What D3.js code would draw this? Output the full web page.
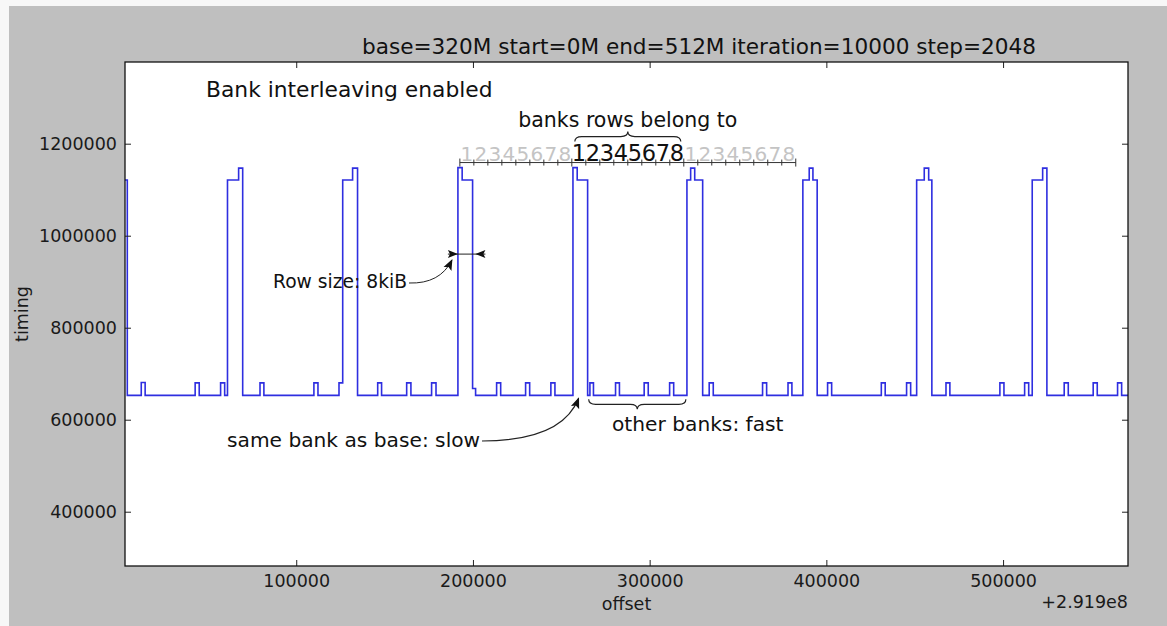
<!DOCTYPE html>
<html lang="en">
<head>
<meta charset="utf-8">
<title>Bank interleaving enabled</title>
<script src="https://d3js.org/d3.v7.min.js"></script>
<style>
  body { margin: 0; background: #f7f7f7; }
  text { font-family: "DejaVu Sans", sans-serif; }
</style>
</head>
<body>
<script>
// trace as steps: offset (relative to 2.919e8) where timing changes, and the new timing
var offsets = [3100, 4400, 12300, 14500, 42800, 45100, 57200, 59500, 61100, 67400,
  69700, 79500, 81700, 110000, 112300, 124200, 126300, 131900, 134700, 146100,
  148300, 162500, 164900, 176600, 179100, 191500, 193900, 199800, 201500, 213400,
  215700, 229800, 232100, 244100, 246400, 256600, 259000, 264900, 266200, 268200,
  280700, 282900, 296900, 299200, 311300, 313600, 321100, 323200, 325500, 330000,
  333700, 336000, 363900, 366200, 378300, 380500, 386700, 390300, 392400, 394800,
  400700, 403000, 431100, 433300, 445400, 447700, 451100, 455400, 457900, 459700,
  467700, 469900, 498200, 500500, 512200, 514500, 516500, 522400, 524800, 534600,
  536900, 551000, 553300, 564800, 567100, 570700];
var timings = [1121000, 653000, 681000, 653000, 680000, 653000, 680000, 653000, 1121000, 1147000,
  653000, 680000, 653000, 680000, 653000, 680000, 1121000, 1147000, 653000, 680000,
  653000, 680000, 653000, 680000, 653000, 1148000, 1121000, 668000, 653000, 680000,
  653000, 680000, 653000, 680000, 653000, 1148000, 1121000, 653000, 680000, 653000,
  680000, 653000, 680000, 653000, 680000, 653000, 1121000, 1147000, 1121000, 653000,
  680000, 653000, 680000, 653000, 680000, 653000, 1121000, 1147000, 1121000, 653000,
  680000, 653000, 680000, 653000, 680000, 653000, 1121000, 1147000, 1121000, 653000,
  680000, 653000, 680000, 653000, 680000, 653000, 1121000, 1147000, 653000, 680000,
  653000, 680000, 653000, 680000, 653000, 653000];

var xTicks = [100000, 200000, 300000, 400000, 500000];
var yTicks = [400000, 600000, 800000, 1000000, 1200000];
var bankDigits = ["1", "2", "3", "4", "5", "6", "7", "8"];
var bankGroups = [0, 1, 2];     // group 1 is the highlighted one

var rulerStart = 192600, rulerStep = 7920, rulerY = 1159000;
var rowStart = 191500, rowSize = 8192, rowY = 960000;
var slowAt = [259800, 653000];

var W = 1167, H = 626;
var margin = {left: 125, right: 1128, top: 62, bottom: 566};

var svg = d3.select("body").append("svg")
  .attr("width", W)
  .attr("height", H);

svg.append("rect")
  .attr("x", 9).attr("y", 6)
  .attr("width", W - 9).attr("height", H - 6)
  .attr("fill", "#bfbfbf");

var x = d3.scaleLinear().domain([3100, 570700]).range([margin.left, margin.right]);
var y = d3.scaleLinear().domain([282000, 1377600]).range([margin.bottom, margin.top]);

var defs = svg.append("defs");
defs.append("clipPath").attr("id", "clip")
  .append("rect")
  .attr("x", margin.left).attr("y", margin.top)
  .attr("width", margin.right - margin.left)
  .attr("height", margin.bottom - margin.top);

defs.append("marker")
  .attr("id", "head")
  .attr("viewBox", "0 0 10 10")
  .attr("refX", 9).attr("refY", 5)
  .attr("markerWidth", 11).attr("markerHeight", 11)
  .attr("markerUnits", "userSpaceOnUse")
  .attr("orient", "auto")
  .append("path")
  .attr("d", "M0,1 L10,5 L0,9 L2,5 Z")
  .attr("fill", "#111");

svg.append("rect")
  .attr("x", margin.left).attr("y", margin.top)
  .attr("width", margin.right - margin.left)
  .attr("height", margin.bottom - margin.top)
  .attr("fill", "white");

// trace
var pts = offsets.map((d, i) => [d, timings[i]]);
var line = d3.line()
  .x(d => x(d[0]))
  .y(d => y(d[1]))
  .curve(d3.curveStepAfter);

svg.append("path")
  .datum(pts)
  .attr("clip-path", "url(#clip)")
  .attr("d", line)
  .attr("fill", "none")
  .attr("stroke", "#2e2ee0")
  .attr("stroke-width", 1.6);

// axes, ticks inside on all sides
svg.append("g").attr("transform", "translate(0," + margin.bottom + ")")
  .call(d3.axisBottom(x).tickValues(xTicks).tickSize(-6).tickPadding(9).tickFormat(d3.format("d")));
svg.append("g").attr("transform", "translate(" + margin.left + ",0)")
  .call(d3.axisLeft(y).tickValues(yTicks).tickSize(-6).tickPadding(8).tickFormat(d3.format("d")));
svg.append("g").attr("transform", "translate(0," + margin.top + ")")
  .call(d3.axisTop(x).tickValues(xTicks).tickSize(-6).tickFormat(""));
svg.append("g").attr("transform", "translate(" + margin.right + ",0)")
  .call(d3.axisRight(y).tickValues(yTicks).tickSize(-6).tickFormat(""));

svg.selectAll(".domain").remove();
svg.selectAll(".tick line").attr("stroke", "#222");
svg.selectAll(".tick text")
  .attr("font-family", "DejaVu Sans")
  .attr("font-size", "17.5px")
  .attr("fill", "#1a1a1a");

svg.append("rect")
  .attr("x", margin.left).attr("y", margin.top)
  .attr("width", margin.right - margin.left)
  .attr("height", margin.bottom - margin.top)
  .attr("fill", "none")
  .attr("stroke", "#111")
  .attr("stroke-width", 1.3);

// labels
svg.append("text")
  .attr("x", 699).attr("y", 54)
  .attr("text-anchor", "middle")
  .attr("font-size", "21.6px")
  .attr("fill", "#111")
  .text("base=320M start=0M end=512M iteration=10000 step=2048");

svg.append("text")
  .attr("x", (margin.left + margin.right) / 2).attr("y", 610)
  .attr("text-anchor", "middle")
  .attr("font-size", "17.5px")
  .attr("fill", "#1a1a1a")
  .text("offset");

svg.append("text")
  .attr("x", margin.right).attr("y", 608)
  .attr("text-anchor", "end")
  .attr("font-size", "17.5px")
  .attr("fill", "#1a1a1a")
  .text("+2.919e8");

svg.append("text")
  .attr("transform", "translate(28,314) rotate(-90)")
  .attr("text-anchor", "middle")
  .attr("font-size", "17.5px")
  .attr("fill", "#1a1a1a")
  .text("timing");

svg.append("text")
  .attr("x", 206).attr("y", 97)
  .attr("font-size", "21.8px")
  .attr("fill", "#111")
  .text("Bank interleaving enabled");

// bank ruler
var ry = y(rulerY);
var g = svg.append("g");
g.append("line")
  .attr("x1", x(rulerStart)).attr("x2", x(rulerStart + 24 * rulerStep))
  .attr("y1", ry).attr("y2", ry)
  .attr("stroke", "#333").attr("stroke-width", 1);
g.selectAll("line.tk")
  .data(d3.range(25))
  .enter().append("line")
  .attr("x1", i => x(rulerStart + i * rulerStep))
  .attr("x2", i => x(rulerStart + i * rulerStep))
  .attr("y1", i => ry - (i % 8 == 0 ? 4 : 3))
  .attr("y2", i => ry + (i % 8 == 0 ? 4 : 3))
  .attr("stroke", "#333").attr("stroke-width", 1);

bankGroups.forEach(function(gi) {
  g.selectAll("text.g" + gi)
    .data(bankDigits)
    .enter().append("text")
    .attr("x", (d, i) => x(rulerStart + (gi * 8 + i + 0.5) * rulerStep))
    .attr("y", ry - 2)
    .attr("text-anchor", "middle")
    .attr("font-size", gi == 1 ? "22.5px" : "20px")
    .attr("fill", gi == 1 ? "#111" : "#c4c4c4")
    .text(d => d);
});

function brace(x0, x1, yb, h) {
  var xm = (x0 + x1) / 2, q = 7, ym = yb + h / 2;
  return "M" + x0 + "," + yb +
    " Q" + x0 + "," + ym + " " + (x0 + q) + "," + ym +
    " L" + (xm - q) + "," + ym +
    " Q" + xm + "," + ym + " " + xm + "," + (yb + h) +
    " Q" + xm + "," + ym + " " + (xm + q) + "," + ym +
    " L" + (x1 - q) + "," + ym +
    " Q" + x1 + "," + ym + " " + x1 + "," + yb;
}

g.append("path")
  .attr("d", brace(x(rulerStart + 8 * rulerStep) + 3, x(rulerStart + 16 * rulerStep) - 3, ry - 21, -10))
  .attr("fill", "none").attr("stroke", "#222").attr("stroke-width", 1.2);

g.append("text")
  .attr("x", x(rulerStart + 12 * rulerStep)).attr("y", 127)
  .attr("text-anchor", "middle")
  .attr("font-size", "20.5px")
  .attr("fill", "#111")
  .text("banks rows belong to");

// row size marker
var rx0 = x(rowStart), rx1 = x(rowStart + rowSize), rY = y(rowY);
svg.append("line")
  .attr("x1", rx0 - 10).attr("x2", rx1 + 13)
  .attr("y1", rY).attr("y2", rY)
  .attr("stroke", "#222").attr("stroke-width", 1);
svg.append("path")
  .attr("d", "M" + (rx0 - 10) + "," + (rY - 4) + " L" + rx0 + "," + rY + " L" + (rx0 - 10) + "," + (rY + 4) + " L" + (rx0 - 8) + "," + rY + "Z")
  .attr("fill", "#111");
svg.append("path")
  .attr("d", "M" + (rx1 + 13) + "," + (rY - 4) + " L" + (rx1 + 3) + "," + rY + " L" + (rx1 + 13) + "," + (rY + 4) + " L" + (rx1 + 11) + "," + rY + "Z")
  .attr("fill", "#111");

svg.append("text")
  .attr("x", 273).attr("y", 288)
  .attr("font-size", "18.7px")
  .attr("fill", "#111")
  .text("Row size: 8kiB");
svg.append("path")
  .attr("d", "M409,283 Q440,284 " + (rx0 - 6) + "," + (rY + 6))
  .attr("fill", "none").attr("stroke", "#222").attr("stroke-width", 1)
  .attr("marker-end", "url(#head)");

// slow / fast annotations
svg.append("text")
  .attr("x", 227).attr("y", 447)
  .attr("font-size", "20.2px")
  .attr("fill", "#111")
  .text("same bank as base: slow");
svg.append("path")
  .attr("d", "M482,441 Q562,441 " + x(slowAt[0]) + "," + (y(slowAt[1]) + 3))
  .attr("fill", "none").attr("stroke", "#222").attr("stroke-width", 1.2)
  .attr("marker-end", "url(#head)");

svg.append("path")
  .attr("d", brace(x(265500), x(320500), y(653000) + 4, 10))
  .attr("fill", "none").attr("stroke", "#222").attr("stroke-width", 1.2);
svg.append("text")
  .attr("x", 612).attr("y", 431)
  .attr("font-size", "20.2px")
  .attr("fill", "#111")
  .text("other banks: fast");
</script>
</body>
</html>
